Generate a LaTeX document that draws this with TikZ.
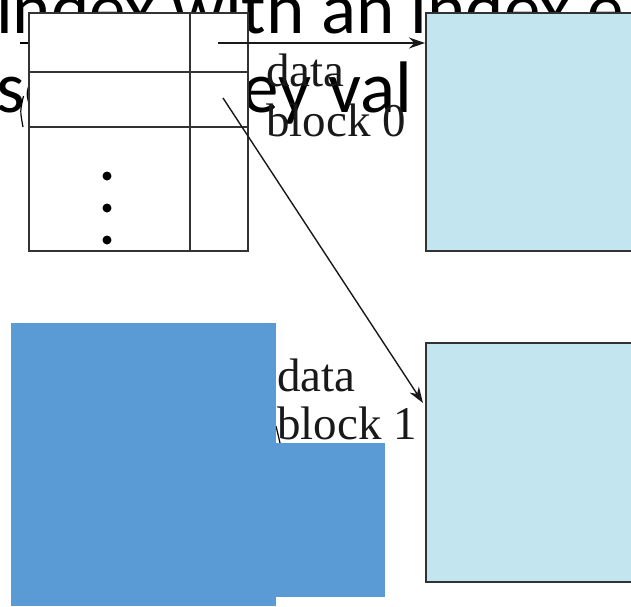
\documentclass[tikz,border=0pt]{standalone}
\usepackage{fontspec}
\newfontfamily\slidefont{Carlito}
\newfontfamily\labelfont{Liberation Serif}
\usepackage{tikz}
\usetikzlibrary{arrows,arrows.meta,shapes,positioning}

\definecolor{blockblue}{HTML}{C2E5F0}
\definecolor{slideblue}{HTML}{5B9BD5}
\definecolor{inkgray}{HTML}{333333}

\tikzset{
  slidetext/.style={font=\slidefont\fontsize{73}{79}\selectfont, inner sep=0pt, anchor=base west},
  blklabel/.style={font=\labelfont\fontsize{47}{48}\selectfont, text=black!90, align=left, inner sep=0pt, anchor=north west},
  datablk/.style={draw=inkgray, line width=2.4pt, fill=blockblue, minimum width=240pt, inner sep=0pt, anchor=north west},
  ptr/.style={line width=1.4pt, black!90, -{Stealth[length=16pt,width=11pt]}},
}

\begin{document}
\begin{tikzpicture}[x=1pt,y=-1pt]
  \useasboundingbox (0,0) rectangle (631,606);
  \clip (0,0) rectangle (631,606);
  \node[slidetext] (line1) at (-4,33) {index with an index e};
  \node[slidetext] (line2) at (-4,112) {search-key val};
  % index block 0
  \node[draw=inkgray, line width=1.6pt, fill=white, minimum width=219pt, minimum height=238pt, inner sep=0pt, anchor=north west] (idx) at (28,12) {};
  \draw[inkgray, line width=1.6pt] (28,72) -- (247,72); % row 1
  \draw[inkgray, line width=1.6pt] (28,127) -- (247,127); % row 2
  \draw[inkgray, line width=1.6pt] (190,12) -- (190,250); % pointer column
  \foreach \y in {176,208,240}
    \fill (107,\y) circle (4.5);
  % data blocks
  \node[datablk, minimum height=238pt] (blk0) at (425,12) {};
  \node[datablk, minimum height=239pt] (blk1) at (425,342) {};
  \node[blklabel] (lbl0) at (266,54) {data\\[2pt]block 0};
  \node[blklabel] (lbl1) at (277,359) {data\\block 1};
  % pointers
  \coordinate (p0) at (218,43);
  \coordinate (p1) at (223,98);
  \coordinate (q1) at (423,403);
  \draw[ptr] (p0) -- (p0 -| blk0.west);
  \draw[ptr] (p1) -- (q1);
  \coordinate (s0) at (20,43);
  \draw[line width=1.3pt] (s0) -- (s0 -| idx.west); % incoming
  \draw[line width=1.2pt] (23.5,96) .. controls (20,111) .. (23,127);
  \draw[line width=1.2pt] (276,426) -- (280,443);
  % cover
  \fill[slideblue] (11,323) rectangle (276,606);
  \fill[slideblue] (276,443) rectangle (385,597);
\end{tikzpicture}
\end{document}
